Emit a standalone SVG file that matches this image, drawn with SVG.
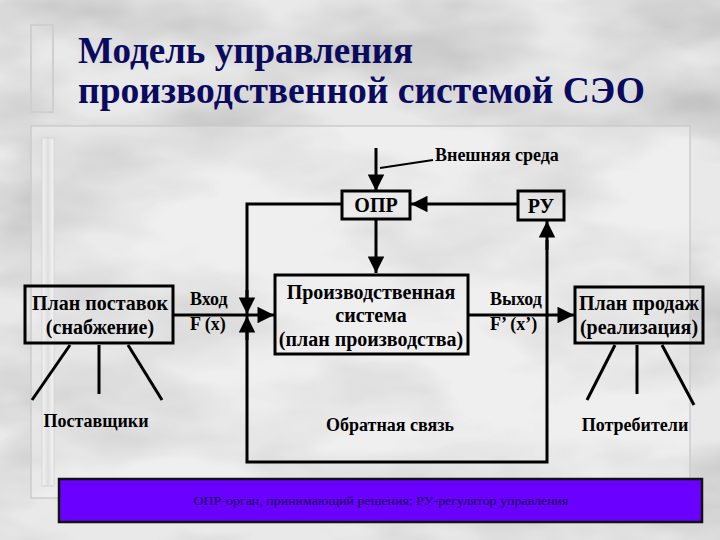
<svg xmlns="http://www.w3.org/2000/svg" width="720" height="540" viewBox="0 0 720 540" font-family="Liberation Serif, Times New Roman, serif">
<defs>
  <filter id="marble" x="0" y="0" width="100%" height="100%">
    <feTurbulence type="fractalNoise" baseFrequency="0.005 0.011" numOctaves="4" seed="7" result="n"/>
    <feColorMatrix type="matrix" values="0 0 0 0 0.48  0 0 0 0 0.48  0 0 0 0 0.48  1.9 0 0 0 -0.75" in="n" result="g"/>
    <feComposite in="g" in2="SourceGraphic" operator="in"/>
  </filter>
  <linearGradient id="bar" x1="0" y1="0" x2="1" y2="0">
    <stop offset="0" stop-color="#f4f4f4"/>
    <stop offset="0.5" stop-color="#dedede"/>
    <stop offset="1" stop-color="#f6f6f6"/>
  </linearGradient>
  <marker id="ah" viewBox="0 0 10 10" refX="10" refY="5" markerWidth="6" markerHeight="5.5" markerUnits="strokeWidth" orient="auto">
    <path d="M0,0 L10,5 L0,10 z" fill="#000"/>
  </marker>
  <style>
    .ln{stroke:#000;stroke-width:3;fill:none}
    .bx{fill:none;stroke:#000;stroke-width:3}
    .t{font-family:'Liberation Serif','Times New Roman',serif;font-weight:bold;fill:#000}
    .lb{font-size:20px;text-anchor:middle}
    .sm{font-size:18px}
  </style>
</defs>
<rect x="0" y="0" width="720" height="540" fill="#e9e9e9"/>
<rect x="0" y="0" width="720" height="540" fill="#fff" filter="url(#marble)"/>
<!-- decorative frame -->
<rect x="31" y="25" width="22" height="87" fill="none" stroke="#cfcfcf" stroke-width="2"/>
<rect x="31" y="126" width="659" height="372" fill="#ffffff" fill-opacity="0.3" stroke="#cccccc" stroke-width="1.5"/>
<rect x="42" y="138" width="12" height="348" fill="url(#bar)" stroke="#d4d4d4" stroke-width="1"/>
<!-- title -->
<g id="title" font-family="Liberation Serif, Times New Roman, serif" font-weight="bold" font-size="38" fill="#0a0a5e">
  <text x="78" y="63" textLength="335" lengthAdjust="spacingAndGlyphs">Модель управления</text>
  <text x="78" y="103" textLength="567" lengthAdjust="spacingAndGlyphs">производственной системой СЭО</text>
</g>

<g id="connectors">
  <line class="ln" x1="376" y1="148" x2="376" y2="191" marker-end="url(#ah)"/>
  <line x1="380" y1="168" x2="433" y2="160" stroke="#000" stroke-width="2"/>
  <line class="ln" x1="518" y1="204" x2="411" y2="204" marker-end="url(#ah)"/>
  <line class="ln" x1="376" y1="220" x2="376" y2="273" marker-end="url(#ah)"/>
  <polyline class="ln" points="342,204 247,204 247,300"/>
  <line class="ln" x1="247" y1="290" x2="247" y2="314" marker-end="url(#ah)"/>
  <polyline class="ln" points="247,330 247,462 547,462 547,240"/>
  <line class="ln" x1="247" y1="340" x2="247" y2="316" marker-end="url(#ah)"/>
  <line class="ln" x1="547" y1="250" x2="547" y2="221" marker-end="url(#ah)"/>
  <line class="ln" x1="173" y1="315" x2="274" y2="315" marker-end="url(#ah)"/>
  <line class="ln" x1="468" y1="315" x2="574" y2="315" marker-end="url(#ah)"/>
  <line class="ln" x1="70" y1="345" x2="32" y2="400"/>
  <line class="ln" x1="99" y1="345" x2="99" y2="394"/>
  <line class="ln" x1="128" y1="345" x2="162" y2="400"/>
  <line class="ln" x1="615" y1="345" x2="587" y2="400"/>
  <line class="ln" x1="637" y1="345" x2="637" y2="394"/>
  <line class="ln" x1="662" y1="345" x2="694" y2="405"/>
</g>

<g id="opr">
  <rect class="bx" x="342" y="191" width="68" height="28"/>
  <text class="t lb" x="376" y="212">ОПР</text>
</g>
<g id="ru">
  <rect class="bx" x="518" y="191" width="46" height="29"/>
  <text class="t lb" x="541" y="213">РУ</text>
</g>
<g id="production">
  <rect class="bx" x="275" y="275" width="193" height="79"/>
  <text class="t lb" x="371" y="299">Производственная</text>
  <text class="t lb" x="371" y="322">система</text>
  <text class="t lb" x="371" y="346">(план производства)</text>
</g>
<g id="supply">
  <rect class="bx" x="25" y="286" width="148" height="57"/>
  <text class="t lb" x="100" y="310">План поставок</text>
  <text class="t lb" x="100" y="334">(снабжение)</text>
</g>
<g id="sales">
  <rect class="bx" x="575" y="287" width="128" height="56"/>
  <text class="t lb" x="639" y="310">План продаж</text>
  <text class="t lb" x="639" y="334">(реализация)</text>
</g>
<g id="labels">
  <text class="t sm" x="435" y="161">Внешняя среда</text>
  <text class="t sm" x="190" y="305">Вход</text>
  <text class="t sm" x="190" y="330">F (x)</text>
  <text class="t sm" x="490" y="305">Выход</text>
  <text class="t sm" x="490" y="330">F’ (x’)</text>
  <text class="t sm" x="96" y="427" text-anchor="middle">Поставщики</text>
  <text class="t sm" x="635" y="431" text-anchor="middle">Потребители</text>
  <text class="t sm" x="390" y="431" text-anchor="middle">Обратная связь</text>
</g>
<g id="legend">
  <rect x="59" y="479" width="643" height="43" fill="#6a00ff" stroke="#111" stroke-width="2.5"/>
  <text x="381" y="505" text-anchor="middle" font-family="Liberation Serif, Times New Roman, serif" font-size="13" fill="#1a0050" textLength="375" lengthAdjust="spacingAndGlyphs">ОПР-орган, принимающий решения; РУ-регулятор управления</text>
</g>
</svg>
